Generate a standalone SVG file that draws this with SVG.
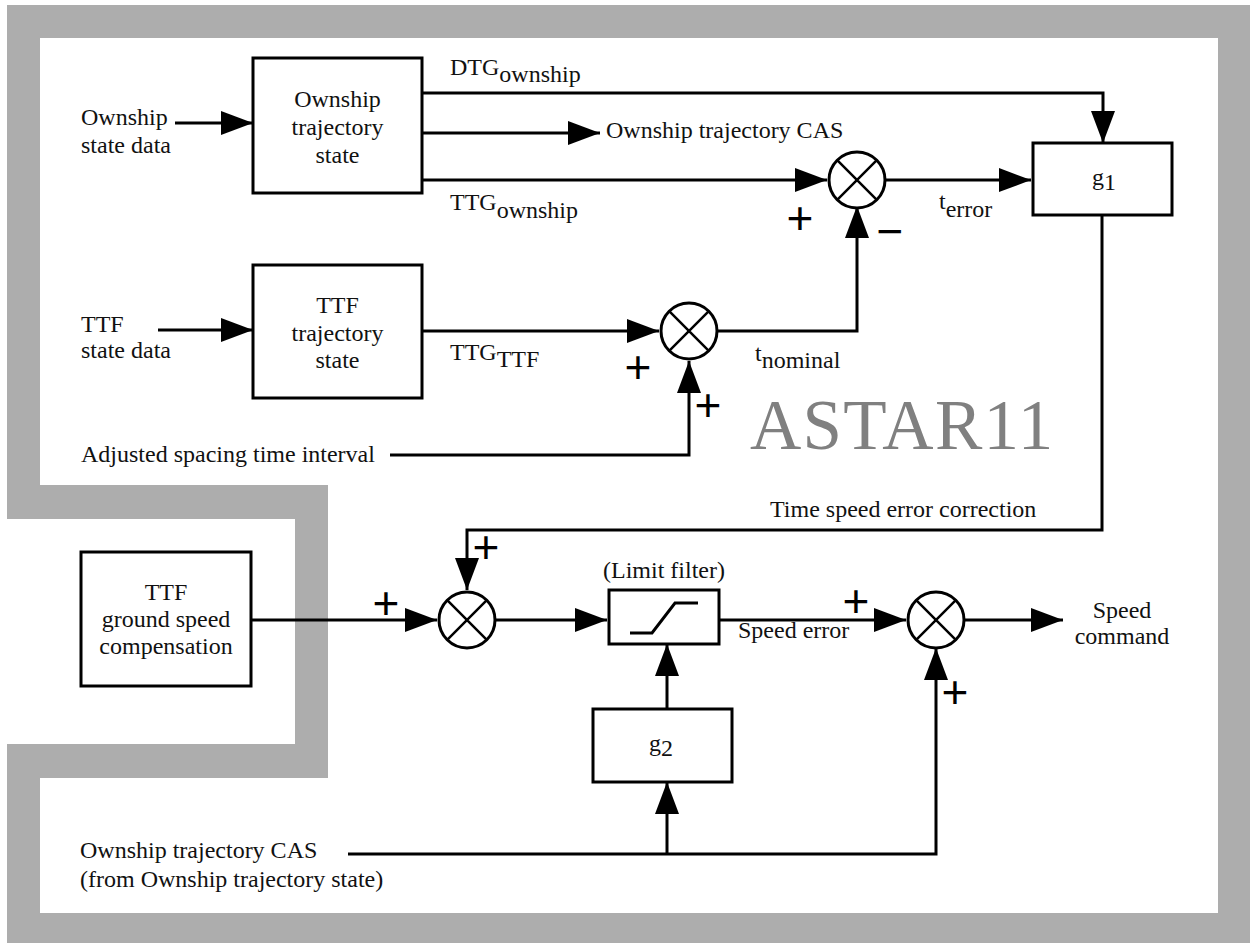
<svg xmlns="http://www.w3.org/2000/svg" width="1250" height="943" viewBox="0 0 1250 943">
<style>
text{font-family:"Liberation Serif","Times New Roman",serif;font-size:24px;fill:#111}
.c{text-anchor:middle}
.box{fill:#fff;stroke:#000;stroke-width:3}
.sum{fill:#fff;stroke:#000;stroke-width:3}
.x{stroke:#000;stroke-width:2.5;fill:none}
.sign{font-family:"Liberation Sans",Arial,sans-serif;font-size:46px;text-anchor:middle;fill:#000}
.wm{font-size:71px;fill:#808080;letter-spacing:1.3px}
#connectors path{fill:none;stroke:#000;stroke-width:3}
.a{marker-end:url(#ah)}
</style>
<defs>
<marker id="ah" markerUnits="userSpaceOnUse" markerWidth="32" markerHeight="24" refX="32" refY="12" orient="auto">
<path d="M0,0 L32,12 L0,24 z" fill="#000"/>
</marker>
</defs>
<rect width="1250" height="943" fill="#fff"/>
<path id="frame" fill="#adadad" fill-rule="evenodd" d="M7,5 H1250 V943 H7 V744 H295 V519 H7 Z M40,38 H1218 V913 H40 V778 H328 V485 H40 Z"/>

<g id="connectors">
<path class="a" d="M175,123 H253"/>
<path class="a" d="M158,330 H253"/>
<path class="a" d="M422,93 H1103 V143"/>
<path class="a" d="M422,133 H600"/>
<path class="a" d="M422,180 H827"/>
<path class="a" d="M885,180 H1031"/>
<path class="a" d="M422,331 H659"/>
<path class="a" d="M717,331 H857 V206"/>
<path class="a" d="M390,455 H689 V361"/>
<path class="a" d="M1102,215 V530 H467 V590"/>
<path class="a" d="M251,620 H437"/>
<path class="a" d="M495,620 H607"/>
<path class="a" d="M667,709 V644"/>
<path class="a" d="M719,620 H906"/>
<path class="a" d="M964,620 H1063"/>
<path class="a" d="M348,854 H936 V648"/>
<path class="a" d="M667,854 V782"/>
</g>

<g id="ownship_state">
<rect class="box" x="253" y="58" width="169" height="135"/>
<text class="c" x="337.5" y="107">Ownship</text>
<text class="c" x="337.5" y="135">trajectory</text>
<text class="c" x="337.5" y="163">state</text>
</g>
<g id="ttf_state">
<rect class="box" x="253" y="265" width="169" height="133"/>
<text class="c" x="337.5" y="313">TTF</text>
<text class="c" x="337.5" y="341">trajectory</text>
<text class="c" x="337.5" y="368">state</text>
</g>
<g id="g1">
<rect class="box" x="1033" y="143" width="139" height="72"/>
<text x="1092" y="185">g<tspan dy="5">1</tspan></text>
</g>
<g id="sum1">
<circle class="sum" cx="857" cy="180" r="28"/>
<path class="x" d="M837.2,160.2 L876.8,199.8 M876.8,160.2 L837.2,199.8"/>
</g>
<g id="sum2">
<circle class="sum" cx="689" cy="331" r="28"/>
<path class="x" d="M669.2,311.2 L708.8,350.8 M708.8,311.2 L669.2,350.8"/>
</g>
<g id="sum3">
<circle class="sum" cx="467" cy="620" r="28"/>
<path class="x" d="M447.2,600.2 L486.8,639.8 M486.8,600.2 L447.2,639.8"/>
</g>
<g id="sum4">
<circle class="sum" cx="936" cy="620" r="28"/>
<path class="x" d="M916.2,600.2 L955.8,639.8 M955.8,600.2 L916.2,639.8"/>
</g>
<g id="limit_filter">
<rect class="box" x="609" y="590" width="110" height="54"/>
<path d="M630,633 H652 L675,603 H698" fill="none" stroke="#000" stroke-width="3"/>
<text class="c" x="664" y="578">(Limit filter)</text>
</g>
<g id="g2">
<rect class="box" x="593" y="709" width="139" height="73"/>
<text x="649" y="751">g<tspan dy="5">2</tspan></text>
</g>
<g id="ttf_gs_comp">
<rect class="box" x="81" y="552" width="170" height="134"/>
<text class="c" x="166" y="600">TTF</text>
<text class="c" x="166" y="627">ground speed</text>
<text class="c" x="166" y="654">compensation</text>
</g>

<g id="labels">
<text x="81" y="125">Ownship</text>
<text x="81" y="153">state data</text>
<text x="81" y="332">TTF</text>
<text x="81" y="358">state data</text>
<text x="81" y="462">Adjusted spacing time interval</text>
<text x="450" y="75">DTG<tspan dy="7">ownship</tspan></text>
<text x="606" y="138">Ownship trajectory CAS</text>
<text x="450" y="210">TTG<tspan dy="8">ownship</tspan></text>
<text x="939" y="209">t<tspan dy="8">error</tspan></text>
<text x="450" y="360">TTG<tspan dy="7">TTF</tspan></text>
<text x="755" y="361">t<tspan dy="7">nominal</tspan></text>
<text class="wm" x="750" y="449">ASTAR11</text>
<text x="770" y="517">Time speed error correction</text>
<text x="738" y="638">Speed error</text>
<text class="c" x="1122" y="618">Speed</text>
<text class="c" x="1122" y="644">command</text>
<text x="80" y="858">Ownship trajectory CAS</text>
<text x="80" y="887">(from Ownship trajectory state)</text>
</g>
<g id="signs">
<text class="sign" x="800" y="234">+</text>
<text class="sign" x="890" y="247">−</text>
<text class="sign" x="638" y="383">+</text>
<text class="sign" x="708" y="421">+</text>
<text class="sign" x="486" y="563">+</text>
<text class="sign" x="386" y="619">+</text>
<text class="sign" x="856" y="617">+</text>
<text class="sign" x="955" y="708">+</text>
</g>
</svg>
